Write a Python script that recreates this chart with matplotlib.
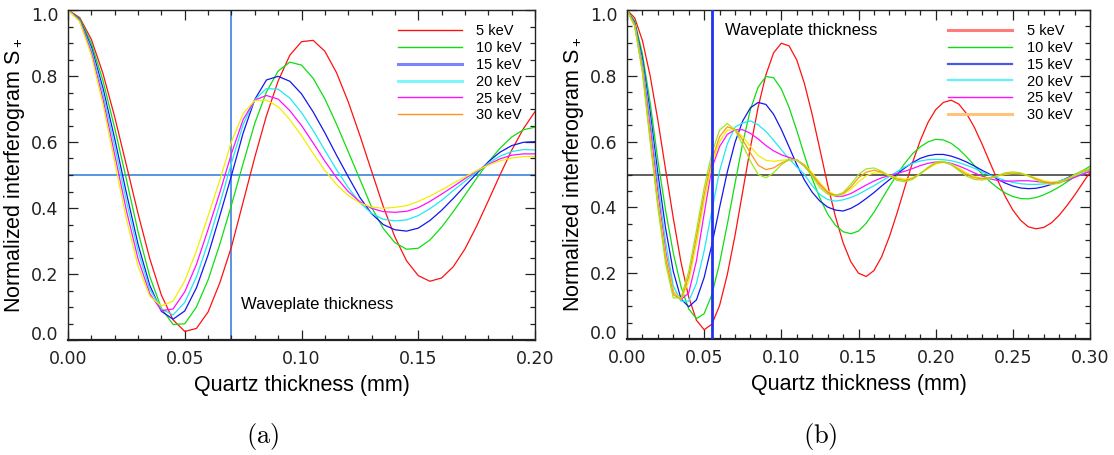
"""
Normalized interferogram S+ against quartz thickness for several beam energies,
(a) first waveplate, (b) second waveplate.
"""
import matplotlib.pyplot as plt
import numpy as np
from matplotlib.lines import Line2D
from matplotlib.ticker import FormatStrFormatter, MultipleLocator
from matplotlib.transforms import ScaledTranslation

plt.rc('font', family='Liberation Sans', size=12)
plt.rc('mathtext', fontset='custom', rm='Liberation Sans',
       it='Liberation Sans:italic', bf='Liberation Sans:bold')

# ---- panel (a): thickness 0 .. 0.20 mm, step 0.005 ----
thick_a = np.linspace(0.0, 0.20, 41)

red_a = [1.000, .977, .911, .807, .676, .530, .383, .247, .136, .061, .026,
         .035, .085, .173, .282, .418, .554, .680, .785, .863, .904,
         .908, .875, .810, .722, .620, .512, .405, .312, .240, .195,
         .178, .188, .222, .276, .345, .422, .500, .575, .640, .692]
green_a = [1.000, .974, .899, .785, .642, .487, .328, .193, .096, .047, .049,
           .100, .182, .290, .409, .535, .657, .752, .815, .842, .833,
           .793, .731, .654, .571, .487, .403, .338, .295, .275, .278,
           .303, .342, .389, .439, .490, .539, .581, .615, .637, .645]
blue_a = [1.000, .971, .888, .763, .610, .446, .290, .166, .087, .063, .088,
          .158, .258, .376, .498, .627, .729, .788, .799, .784, .746,
          .691, .628, .560, .495, .432, .383, .350, .334, .330, .339,
          .362, .393, .429, .467, .504, .540, .569, .589, .599, .601]
cyan_a = [1.000, .969, .880, .747, .587, .421, .270, .154, .094, .076, .114,
          .191, .295, .412, .536, .653, .728, .762, .760, .733, .689,
          .635, .575, .516, .462, .416, .384, .366, .361, .364, .377,
          .398, .423, .453, .481, .509, .536, .557, .571, .577, .576]
magenta_a = [1.000, .967, .871, .730, .562, .393, .246, .141, .089, .094, .146,
             .229, .335, .446, .565, .668, .727, .741, .730, .695, .650,
             .597, .542, .492, .450, .419, .399, .389, .387, .390, .401,
             .420, .442, .465, .489, .512, .532, .549, .560, .564, .564]
yellow_a = [1.000, .965, .863, .713, .539, .367, .224, .133, .103, .118, .179,
            .270, .376, .484, .601, .686, .726, .727, .707, .668, .619,
            .565, .514, .471, .438, .415, .403, .399, .402, .407, .420,
            .436, .455, .475, .494, .513, .530, .543, .551, .556, .556]

# ---- panel (b): thickness 0 .. 0.30 mm, step 0.005 ----
thick_b = np.linspace(0.0, 0.30, 61)

red_b = [1.000, .976, .907, .800, .665, .515, .367, .233, .127, .057, .028,
         .045, .102, .196, .315, .449, .583, .705, .803, .870, .899,
         .891, .848, .776, .682, .576, .469, .373, .293, .235, .200,
         .190, .208, .250, .311, .383, .461, .536, .603, .658, .697,
         .719, .726, .714, .685, .644, .593, .538, .484, .434, .392,
         .361, .341, .335, .339, .353, .376, .405, .437, .472, .507]
green_b = [1.000, .966, .867, .719, .543, .391, .261, .159, .091, .062, .077,
           .135, .231, .349, .473, .596, .698, .766, .798, .794, .760,
           .704, .634, .558, .487, .428, .380, .346, .326, .320, .328,
           .352, .385, .424, .463, .500, .534, .563, .584, .599, .607,
           .605, .595, .577, .554, .528, .502, .479, .460, .444, .433,
           .427, .426, .430, .438, .449, .462, .477, .493, .511, .525]
blue_b = [1.000, .961, .852, .690, .504, .337, .205, .122, .098, .119, .187,
          .287, .400, .508, .598, .663, .703, .719, .713, .683, .637,
          .584, .530, .483, .446, .419, .401, .392, .389, .397, .410,
          .427, .445, .465, .484, .501, .520, .536, .549, .557, .561,
          .561, .556, .548, .538, .526, .513, .501, .486, .474, .465,
          .459, .457, .458, .463, .470, .479, .489, .500, .508, .515]
cyan_b = [1.000, .958, .840, .667, .473, .296, .161, .115, .115, .169, .268,
          .390, .511, .593, .644, .657, .663, .651, .631, .604, .575,
          .548, .523, .500, .466, .439, .424, .419, .423, .430, .440,
          .453, .466, .480, .494, .509, .523, .534, .541, .545, .546,
          .545, .542, .536, .528, .519, .508, .498, .490, .482, .476,
          .472, .470, .470, .471, .475, .480, .488, .496, .503, .510]
magenta_b = [1.000, .955, .828, .645, .445, .268, .144, .120, .140, .238, .381,
             .520, .585, .622, .636, .636, .625, .608, .588, .572, .560,
             .552, .544, .525, .498, .470, .446, .434, .434, .442, .455,
             .468, .480, .490, .497, .503, .510, .518, .527, .534, .538,
             .538, .534, .526, .516, .505, .495, .487, .482, .480, .480,
             .481, .481, .479, .476, .474, .476, .482, .491, .500, .510]
yellow_b = [1.000, .953, .820, .620, .420, .255, .145, .120, .175, .290, .420,
            .530, .600, .635, .636, .615, .585, .558, .543, .540, .543,
            .546, .543, .530, .505, .475, .450, .438, .440, .455, .477,
            .496, .505, .505, .498, .490, .486, .490, .502, .518, .532,
            .537, .532, .519, .505, .494, .489, .490, .495, .500, .503,
            .502, .497, .489, .481, .477, .478, .486, .497, .508, .515]
orange_b = [1.000, .952, .815, .610, .410, .245, .135, .120, .190, .310, .440,
            .545, .615, .645, .637, .605, .565, .528, .515, .520, .535,
            .545, .545, .528, .500, .468, .445, .437, .442, .462, .490,
            .507, .513, .507, .496, .486, .482, .488, .503, .520, .535,
            .538, .530, .515, .500, .490, .487, .490, .496, .502, .505,
            .503, .496, .487, .478, .474, .476, .486, .499, .510, .516]
lime_b = [1.000, .950, .810, .600, .400, .230, .125, .125, .205, .330, .460,
          .565, .635, .655, .635, .590, .540, .500, .490, .505, .530,
          .545, .545, .525, .495, .460, .440, .435, .445, .470, .500,
          .517, .520, .510, .495, .482, .478, .485, .502, .522, .537,
          .540, .530, .512, .495, .485, .483, .488, .497, .505, .508,
          .505, .496, .484, .474, .470, .473, .485, .500, .512, .518]

energies = ['5 keV', '10 keV', '15 keV', '20 keV', '25 keV', '30 keV']

WAVEPLATE_A = 0.07
WAVEPLATE_B = 0.055
HALF_LEVEL = 0.5

C_RED = '#ff1010'
C_GREEN = '#10dd10'
C_BLUE = '#1515f0'
C_CYAN = '#20e8f4'
C_MAGENTA = '#ff10ff'
C_YELLOW = '#f2ee00'
C_ORANGE = '#ff9418'
C_LIME = '#9ee81a'


def style_axes(ax, xmax):
    """IDL-like frame: inward ticks on all four sides."""
    ax.set_xlim(0, xmax)
    ax.set_ylim(0, 1)
    ax.xaxis.set_major_locator(MultipleLocator(0.05))
    ax.xaxis.set_minor_locator(MultipleLocator(0.01))
    ax.set_yticks([0.0, 0.2, 0.4, 0.6, 0.8, 1.0])
    ax.yaxis.set_minor_locator(MultipleLocator(0.05))
    ax.xaxis.set_major_formatter(FormatStrFormatter('%.2f'))
    ax.yaxis.set_major_formatter(FormatStrFormatter('%.1f'))
    ax.tick_params(which='both', direction='in', top=True, right=True,
                   width=0.9, colors='#222222')
    ax.tick_params(which='major', length=7, pad=7)
    ax.tick_params(which='minor', length=3.5)
    for spine in ax.spines.values():
        spine.set_linewidth(1.0)
        spine.set_color('#222222')
    ax.spines['bottom'].set_linewidth(1.6)
    for lab in ax.get_xticklabels() + ax.get_yticklabels():
        lab.set_fontfamily('DejaVu Sans')
        lab.set_fontsize(12.5)
        lab.set_color('#222222')
    # end labels sit inside the frame, as in the original IDL output
    ylabs = ax.get_yticklabels()
    dpi_tr = ax.figure.dpi_scale_trans
    ylabs[0].set_transform(ylabs[0].get_transform()
                           + ScaledTranslation(0, 5 / 72, dpi_tr))
    ylabs[-1].set_transform(ylabs[-1].get_transform()
                            + ScaledTranslation(0, -3 / 72, dpi_tr))
    ax.set_xlabel('Quartz thickness (mm)', fontsize=15.5)
    ax.set_ylabel('Normalized interferogram S$_+$', fontsize=15.5)
    ax.xaxis.set_label_coords(0.5, -0.105)
    ax.yaxis.set_label_coords(-0.088, 0.5)


def add_legend(ax, colors, widths, x0):
    handles = [Line2D([], [], color=c, lw=w) for c, w in zip(colors, widths)]
    ax.legend(handles, energies, loc='upper left', bbox_to_anchor=(x0, 0.958),
              frameon=False, fontsize=10.5, handlelength=4.4,
              handletextpad=1.0, labelspacing=0.2, borderpad=0,
              borderaxespad=0)


fig = plt.figure(figsize=(11.14, 4.55), dpi=100)
ax_a = fig.add_axes([68 / 1114, 1 - 340 / 455, 467 / 1114, 330 / 455])
ax_b = fig.add_axes([627 / 1114, 1 - 339 / 455, 463 / 1114, 329 / 455])

# panel (a)
ax_a.axhline(HALF_LEVEL, color='#3d83dd', lw=1.2, zorder=1)
ax_a.axvline(WAVEPLATE_A, color='#3d83dd', lw=1.2, zorder=1)
for ys, c in [(red_a, C_RED), (green_a, C_GREEN), (blue_a, C_BLUE),
              (cyan_a, C_CYAN), (magenta_a, C_MAGENTA), (yellow_a, C_YELLOW)]:
    ax_a.plot(thick_a, ys, color=c, lw=0.9, zorder=2, solid_joinstyle='round')
ax_a.text(0.074, 0.108, 'Waveplate thickness', fontsize=12, va='center')
style_axes(ax_a, 0.20)
add_legend(ax_a, [C_RED, C_GREEN, '#7a86ff', '#7ef6fa', C_MAGENTA, C_ORANGE],
           [1.0, 1.0, 2.2, 2.2, 1.0, 1.0], 0.706)

# panel (b)
ax_b.axhline(HALF_LEVEL, color='#333333', lw=1.1, zorder=1)
ax_b.axvline(WAVEPLATE_B, color='#2233ee', lw=2.0, zorder=3)
for ys, c in [(red_b, C_RED), (green_b, C_GREEN), (blue_b, C_BLUE),
              (cyan_b, C_CYAN), (magenta_b, C_MAGENTA), (yellow_b, C_YELLOW),
              (orange_b, C_ORANGE), (lime_b, C_LIME)]:
    ax_b.plot(thick_b, ys, color=c, lw=0.9, zorder=2, solid_joinstyle='round')
ax_b.text(0.0635, 0.937, 'Waveplate thickness', fontsize=12, va='center')
style_axes(ax_b, 0.30)
add_legend(ax_b, ['#ff7a7a', C_GREEN, '#4a58e8', '#60f4f8', C_MAGENTA, '#ffc47a'],
           [2.2, 1.0, 1.6, 1.6, 1.0, 2.2], 0.693)

fig.text(263 / 1114, 1 - 437 / 455, r'$\mathrm{(a)}$', math_fontfamily='cm',
         fontsize=19, ha='center', va='center')
fig.text(820 / 1114, 1 - 437 / 455, r'$\mathrm{(b)}$', math_fontfamily='cm',
         fontsize=19, ha='center', va='center')

fig.savefig('out.png', dpi=100)
plt.close(fig)
